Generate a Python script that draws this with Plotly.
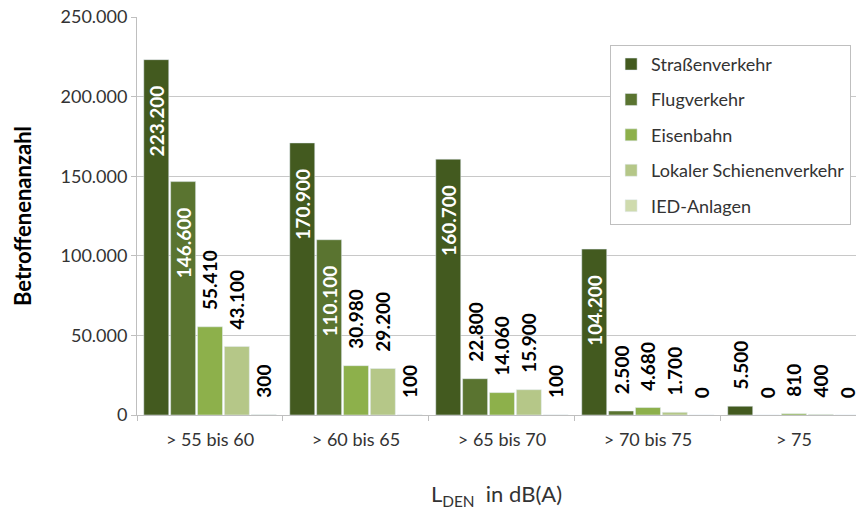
import plotly.graph_objects as go

categories = ["> 55 bis 60", "> 60 bis 65", "> 65 bis 70", "> 70 bis 75", "> 75"]
series_names = ["Straßenverkehr", "Flugverkehr", "Eisenbahn", "Lokaler Schienenverkehr", "IED-Anlagen"]
strassen = [223200, 170900, 160700, 104200, 5500]
flug = [146600, 110100, 22800, 2500, 0]
eisenbahn = [55410, 30980, 14060, 4680, 810]
lokaler = [43100, 29200, 15900, 1700, 400]
ied = [300, 100, 100, 0, 0]
y_ticks = [0, 50000, 100000, 150000, 200000, 250000]

series_values = [strassen, flug, eisenbahn, lokaler, ied]
colors = ["#435a1f", "#5a7430", "#8db04b", "#b5c788", "#cfdbae"]

NB = "\u00a0"

def fmt(v):
    return f"{v:,}".replace(",", ".")

FONT = "Lato"
fig = go.Figure()
for name, vals, col in zip(series_names, series_values, colors):
    inside = [v > 100000 for v in vals]
    positions = ["inside" if i else "outside" for i in inside]
    texts = [fmt(v) + NB * 5 if i else NB * 3 + fmt(v) for v, i in zip(vals, inside)]
    fig.add_trace(go.Bar(
        name=name, x=categories, y=vals, marker_color=col,
        text=texts, textposition=positions, textangle=-90,
        insidetextanchor="end", cliponaxis=False,
        insidetextfont=dict(color="white", size=19, family=FONT, weight="bold"),
        outsidetextfont=dict(color="black", size=19, family=FONT, weight="bold"),
        legendgroup=name,
    ))

fig.update_layout(
    width=856, height=515,
    margin=dict(l=137, r=0, t=17, b=100),
    paper_bgcolor="white", plot_bgcolor="white",
    separators=",.",
    barmode="group", bargap=0.08, bargroupgap=0.07,
    font=dict(family=FONT, size=18, color="#333333"),
    uniformtext=dict(minsize=19, mode="show"),
    legend=dict(x=0.658, y=0.93, xanchor="left", yanchor="top",
                bordercolor="#bfbfbf", borderwidth=1, bgcolor="white",
                font=dict(size=18, color="#333333", family=FONT),
                tracegroupgap=9, itemwidth=30),
    showlegend=True,
)
fig.update_xaxes(
    range=[-0.5, 4.425], showline=True, linecolor="#bfbfbf", linewidth=1,
    ticks="outside", tickson="boundaries", ticklen=5, tickcolor="#bfbfbf",
    tickfont=dict(size=18, color="#333333"), ticklabelstandoff=8,
    title=dict(text="L<sub>DEN</sub>  in dB(A)", font=dict(size=22, color="#333333"), standoff=38),
)
fig.update_yaxes(
    range=[0, 250000], tickvals=y_ticks, tickformat=",d",
    showline=True, linecolor="#bfbfbf", linewidth=1,
    ticks="outside", ticklen=5, tickcolor="#bfbfbf",
    gridcolor="#c8c8c8", gridwidth=1, zeroline=False,
    tickfont=dict(size=18, color="#333333"),
    title=dict(text="<b>Betroffenenanzahl</b>", font=dict(size=22, color="black"), standoff=22),
)
fig.write_html("out.html")
